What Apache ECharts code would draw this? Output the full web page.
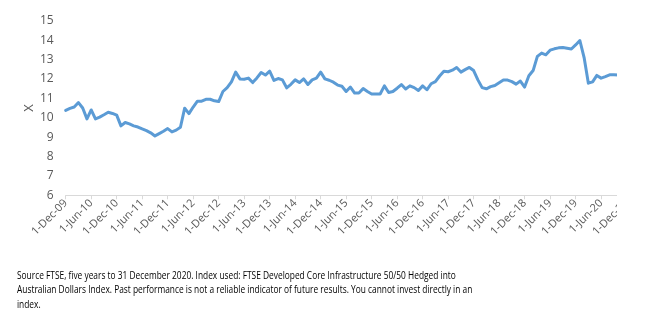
<!DOCTYPE html>
<html>
<head>
<meta charset="utf-8">
<script src="https://cdn.jsdelivr.net/npm/echarts@6/dist/echarts.min.js"></script>
<style>
  html, body { margin: 0; padding: 0; background: #ffffff; }
  #chart { width: 653px; height: 321px; }
</style>
</head>
<body>
<div id="chart"></div>
<script>
// Month-start dates from Dec 2009 to Dec 2020
const monthNames = ['Jan','Feb','Mar','Apr','May','Jun','Jul','Aug','Sep','Oct','Nov','Dec'];
const months = [];
for (let y = 2009; y <= 2020; y++) {
  for (let m = 0; m < 12; m++) {
    if (y === 2009 && m < 11) continue;
    months.push('1-' + monthNames[m] + '-' + String(y).slice(2));
  }
}

// Monthly multiple (X), Dec-09 .. Oct-20
const multipleValues = [
  10.38, 10.48, 10.55, 10.78, 10.50, 9.94, 10.40, 9.94, 10.03, 10.15, 10.28, 10.22,
  10.13, 9.58, 9.75, 9.68, 9.58, 9.52, 9.42, 9.33, 9.22, 9.06, 9.18, 9.30,
  9.44, 9.27, 9.36, 9.51, 10.49, 10.21, 10.55, 10.85, 10.85, 10.95, 10.95, 10.87,
  10.83, 11.35, 11.55, 11.85, 12.35, 12.00, 11.98, 12.04, 11.81, 12.05, 12.33, 12.20,
  12.40, 11.92, 12.02, 11.95, 11.54, 11.72, 11.95, 11.81, 12.00, 11.71, 11.95, 12.04,
  12.35, 12.00, 11.93, 11.83, 11.68, 11.62, 11.35, 11.58, 11.27, 11.27, 11.50, 11.35,
  11.22, 11.22, 11.22, 11.64, 11.30, 11.35, 11.52, 11.71, 11.48, 11.64, 11.55, 11.40,
  11.64, 11.44, 11.75, 11.86, 12.15, 12.40, 12.37, 12.45, 12.59, 12.35, 12.48, 12.59,
  12.43, 11.95, 11.55, 11.49, 11.60, 11.66, 11.80, 11.94, 11.94, 11.86, 11.73, 11.89,
  11.58, 12.16, 12.43, 13.16, 13.33, 13.24, 13.48, 13.55, 13.60, 13.62, 13.58, 13.54,
  13.75, 13.98, 13.10, 11.78, 11.85, 12.18, 12.04, 12.12, 12.21, 12.21, 12.20
];

const yTicks = { min: 6, max: 15, step: 1 };
const yAxisName = 'X';
const footnote = [
  'Source FTSE, five years to 31 December 2020. Index used: FTSE Developed Core Infrastructure 50/50 Hedged into',
  'Australian Dollars Index. Past performance is not a reliable indicator of future results. You cannot invest directly in an',
  'index.'
];

const labelFont = '"Open Sans", sans-serif';
const chart = echarts.init(document.getElementById('chart'), null, { renderer: 'canvas' });
chart.setOption({
  animation: false,
  backgroundColor: '#ffffff',
  grid: { left: 65.7, right: 26.4, top: 20.7, bottom: 125.7, containLabel: false },
  xAxis: {
    type: 'category',
    data: months,
    boundaryGap: false,
    axisLine: { lineStyle: { color: '#d9d9d9', width: 1 } },
    axisTick: { show: true, interval: 5, length: 4, lineStyle: { color: '#d9d9d9' } },
    axisLabel: {
      interval: 5, rotate: 45, color: '#595959', fontSize: 11,
      fontFamily: labelFont, margin: 6
    },
    splitLine: { show: false }
  },
  yAxis: {
    type: 'value',
    min: yTicks.min, max: yTicks.max, interval: yTicks.step,
    name: yAxisName, nameLocation: 'middle', nameGap: 30, nameRotate: 90,
    nameMoveOverlap: false,
    nameTextStyle: { color: '#595959', fontSize: 13, fontFamily: labelFont },
    axisLine: { show: false },
    axisTick: { show: false },
    splitLine: { show: false },
    axisLabel: { color: '#595959', fontSize: 12, fontFamily: labelFont, margin: 12 }
  },
  series: [{
    type: 'line',
    data: multipleValues,
    showSymbol: false,
    lineStyle: { color: '#5b9bd5', width: 3, join: 'round', cap: 'round' },
    itemStyle: { color: '#5b9bd5' }
  }],
  graphic: [
    // blank strip past the right edge of the plot
    { type: 'rect', right: 0, top: 0, z: 100,
      shape: { width: 36, height: 250 }, style: { fill: '#ffffff' } },
    // condensed footnote below the chart
    { type: 'text', x: 17, y: 269, scaleX: 0.76, z: 101,
      style: { text: footnote.join('\n'), fill: '#000000', fontSize: 11,
               fontFamily: labelFont, lineHeight: 14.2, verticalAlign: 'top' } }
  ]
});
</script>
</body>
</html>
